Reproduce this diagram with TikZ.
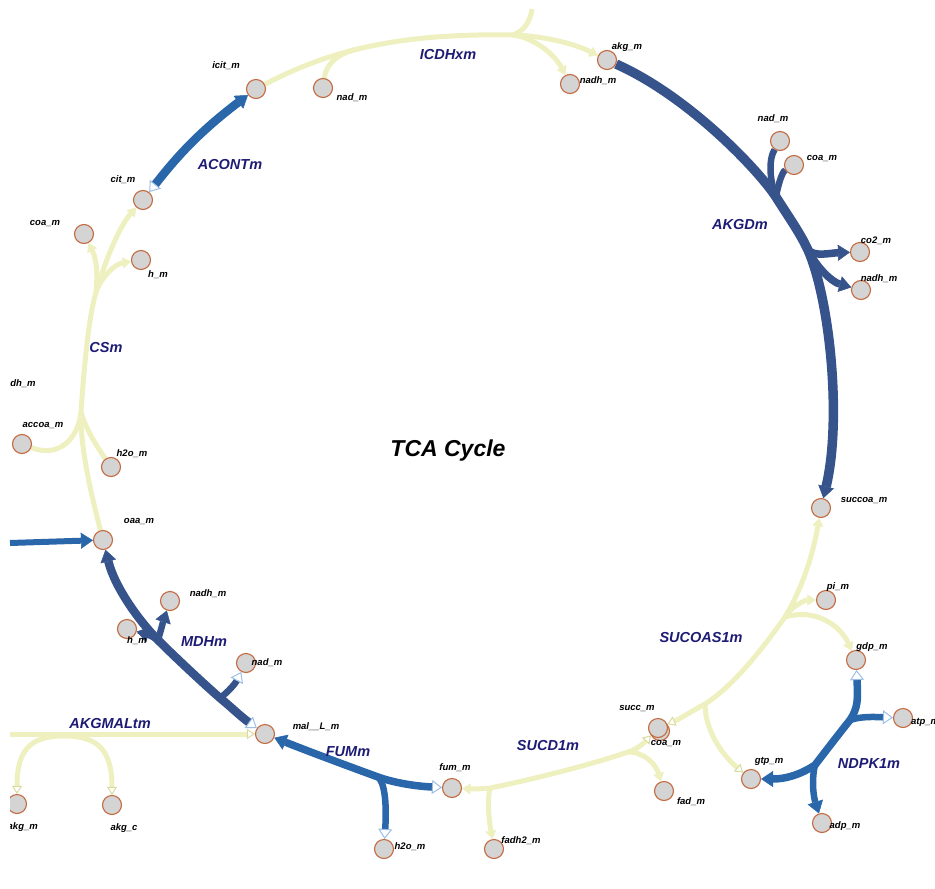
\documentclass[tikz,border=0pt]{standalone}
\usepackage{fontspec}
\setmainfont{Liberation Sans}
\usetikzlibrary{arrows.meta}
\usetikzlibrary{backgrounds}

\definecolor{cYel}{HTML}{EEF0C0}
\definecolor{cYelEdge}{HTML}{D8DC9C}
\definecolor{cBlue}{HTML}{2A67AA}
\definecolor{cDark}{HTML}{36538B}
\definecolor{cOpen}{HTML}{9DBFE6}
\definecolor{cRxn}{HTML}{1D1B74}
\definecolor{cFill}{HTML}{D4D4D4}
\definecolor{cRim}{HTML}{C46A40}

\begin{document}
\begin{tikzpicture}[x=1pt, y=-1pt,
    met/.style={circle, draw=cRim, fill=cFill, line width=1.1pt, minimum size=19pt, inner sep=0pt},
    lab/.style={font=\fontsize{9.5}{10}\selectfont\bfseries\itshape, inner sep=0pt},
    rxn/.style={font=\fontsize{14.5}{15}\selectfont\bfseries\itshape, text=cRxn, inner sep=0pt},
    yel/.style={draw=cYel, line width=5pt},
    blu/.style={draw=cBlue, line width=7.5pt},
    dblu/.style={draw=cDark, line width=8.5pt},
    fY/.tip={Triangle[length=8.5pt, width=11pt, line width=0.5pt]},
    oY/.tip={Triangle[open, length=8pt, width=10pt, line width=1pt, color=cYelEdge]},
    fB/.tip={Triangle[length=12pt, width=16pt, line width=0.5pt]},
    oB/.tip={Triangle[open, length=10pt, width=14pt, line width=1pt, color=cOpen]}]

    \useasboundingbox (0,0) rectangle (935,889);
    \clip (10,9) rectangle (935,889);

    % ICDHxm
    \node[met] (icit) at (256,89) {};
    \node[met] (nadI) at (323,88) {};
    \node[met] (akg) at (607,60) {};
    \node[met] (nadhI) at (570,84) {};
    % AKGDm
    \node[met] (nadA) at (780,141) {};
    \node[met] (coaA) at (794,165) {};
    \node[met] (co2A) at (860,252) {};
    \node[met] (nadhA) at (861,290) {};
    \node[met] (succoa) at (821,508) {};
    % SUCOAS1m
    \node[met] (piS) at (826,600) {};
    \node[met] (gdp) at (856,660) {};
    \node[met] (gtp) at (751,779) {};
    \node[met] (coaS) at (660,731) {};
    \node[met] (succ) at (658,728) {};
    % NDPK1m
    \node[met] (atpN) at (903,718) {};
    \node[met] (adpN) at (822,823) {};
    % SUCD1m
    \node[met] (fadD) at (664,791) {};
    \node[met] (fadh2D) at (494,849) {};
    \node[met] (fum) at (452,788) {};
    % FUMm
    \node[met] (h2oF) at (384,849) {};
    \node[met] (mal) at (265,734) {};
    % MDHm
    \node[met] (nadM) at (246,663) {};
    \node[met] (hM) at (127,629) {};
    \node[met] (nadhM) at (170,601) {};
    \node[met] (oaa) at (103,540) {};
    % CSm
    \node[met] (h2oC) at (111,467) {};
    \node[met] (accoa) at (22,444) {};
    \node[met] (hC) at (141,260) {};
    \node[met] (coaC) at (84,234) {};
    \node[met] (cit) at (143,200) {};
    % AKGMALtm
    \node[met] (akgT) at (17,804) {};
    \node[met] (akgc) at (112,805) {};

    \node[lab] (icit-t) at (226,66) {icit\_m};
    \node[lab] (nadI-t) at (352,98) {nad\_m};
    \node[lab] (akg-t) at (627,47) {akg\_m};
    \node[lab] (nadhI-t) at (598,81) {nadh\_m};
    \node[lab] (nadA-t) at (773,119) {nad\_m};
    \node[lab] (coaA-t) at (822,159) {coa\_m};
    \node[lab] (co2A-t) at (876,241) {co2\_m};
    \node[lab] (nadhA-t) at (879,279) {nadh\_m};
    \node[lab] (succoa-t) at (864,501) {succoa\_m};
    \node[lab] (piS-t) at (838,587) {pi\_m};
    \node[lab] (gdp-t) at (872,647) {gdp\_m};
    \node[lab, anchor=west] (atpN-t) at (911,722) {atp\_m};
    \node[lab] (gtp-t) at (769,761) {gtp\_m};
    \node[lab] (adpN-t) at (845,826) {adp\_m};
    \node[lab] (succ-t) at (637,709) {succ\_m};
    \node[lab] (coaS-t) at (666,744) {coa\_m};
    \node[lab] (fadD-t) at (691,802) {fad\_m};
    \node[lab] (fadh2D-t) at (521,841) {fadh2\_m};
    \node[lab] (fum-t) at (455,768) {fum\_m};
    \node[lab] (h2oF-t) at (410,847) {h2o\_m};
    \node[lab] (mal-t) at (316,727) {mal\_\_L\_m};
    \node[lab] (nadM-t) at (267,663) {nad\_m};
    \node[lab] (hM-t) at (137,641) {h\_m};
    \node[lab] (nadhM-t) at (208,594) {nadh\_m};
    \node[lab] (oaa-t) at (139,522) {oaa\_m};
    \node[lab] (h2oC-t) at (132,454) {h2o\_m};
    \node[lab] (accoa-t) at (43,426) {accoa\_m};
    \node[lab] (nadhC-t) at (23,384) {dh\_m};
    \node[lab] (hC-t) at (158,275) {h\_m};
    \node[lab] (coaC-t) at (45,224) {coa\_m};
    \node[lab] (cit-t) at (123,180) {cit\_m};
    \node[lab, anchor=east] (akgT-t) at (38,827) {akg\_m};
    \node[lab] (akgc-t) at (124,828) {akg\_c};

    \node[rxn] (rICDHxm) at (448,55) {ICDHxm};
    \node[rxn] (rACONTm) at (230,165) {ACONTm};
    \node[rxn] (rAKGDm) at (740,225) {AKGDm};
    \node[rxn] (rCSm) at (106,348) {CSm};
    \node[rxn] (rMDHm) at (204,642) {MDHm};
    \node[rxn] (rAKGMALtm) at (110,723) {AKGMALtm};
    \node[rxn] (rFUMm) at (348,752) {FUMm};
    \node[rxn] (rSUCD1m) at (548,746) {SUCD1m};
    \node[rxn] (rSUCOAS1m) at (701,638) {SUCOAS1m};
    \node[rxn] (rNDPK1m) at (869,764) {NDPK1m};
    \node[font=\fontsize{23}{24}\selectfont\bfseries\itshape, inner sep=0pt] (title) at (448,451) {TCA Cycle};

    \coordinate (jI) at (513,35);
    \coordinate (jIn) at (358,49);
    \coordinate (jIup) at (532,9);
    \coordinate (jA1) at (776,197);
    \coordinate (jA2) at (808,250);
    \coordinate (jS1) at (785,617);
    \coordinate (jS2) at (705,704);
    \coordinate (jD1) at (628,752);
    \coordinate (jD2) at (490,788);
    \coordinate (jF) at (378,777);
    \coordinate (jN1) at (850,720);
    \coordinate (jN2) at (815,765);
    \coordinate (jM1) at (220,698);
    \coordinate (jM2) at (158,640);
    \coordinate (jC1) at (81,412);
    \coordinate (jC2) at (96,292);
    \coordinate (jK) at (64,736);
    \coordinate (jKl) at (10,734);
    \coordinate (jOl) at (10,543);

    \begin{scope}[on background layer]
        % ICDHxm
        \draw[yel] (icit) .. controls (330,50) and (400,33) .. (jI);
        \draw[yel] (nadI) .. controls (326,64) and (338,53) .. (jIn);
        \draw[yel, -fY] (jI) .. controls (545,36) and (575,44) .. (akg);
        \draw[yel, -fY] (jI) .. controls (535,38) and (555,55) .. (nadhI);
        \draw[yel] (jI) .. controls (524,31) and (530,22) .. (jIup);
        % CSm
        \draw[yel] (oaa) .. controls (90,490) and (80,445) .. (jC1) .. controls (84,370) and (88,320) .. (jC2);
        \draw[yel, -fY] (jC2) .. controls (104,265) and (118,228) .. (cit);
        \draw[yel, -fY] (jC2) .. controls (98,272) and (96,258) .. (coaC);
        \draw[yel, -fY] (jC2) .. controls (102,276) and (115,264) .. (hC);
        \draw[yel] (accoa) .. controls (58,458) and (78,440) .. (jC1);
        \draw[yel] (jC1) .. controls (86,430) and (98,448) .. (h2oC);
        % AKGMALtm
        \draw[yel, -oY] (jKl) -- (mal);
        \draw[yel, oY-oY] (akgT) .. controls (17,750) and (30,736) .. (jK) .. controls (98,736) and (112,750) .. (akgc);
        % SUCOAS1m
        \draw[yel, fY-oY] (succoa) .. controls (812,560) and (800,592) .. (jS1) .. controls (765,645) and (735,685) .. (jS2) .. controls (690,712) and (682,718) .. (succ);
        \draw[yel, -fY] (jS1) .. controls (792,606) and (805,600) .. (piS);
        \draw[yel, -fY] (jS1) .. controls (815,608) and (840,625) .. (gdp);
        \draw[yel, -oY] (jS2) .. controls (705,730) and (722,755) .. (gtp);
        % SUCD1m
        \draw[yel, fY-oY] (fum) .. controls (472,789) and (480,789) .. (jD2) .. controls (530,780) and (590,765) .. (jD1) .. controls (637,749) and (642,745) .. (succ);
        \draw[yel, -fY] (jD1) .. controls (645,752) and (656,765) .. (fadD);
        \draw[yel, -fY] (jD2) .. controls (487,800) and (489,820) .. (fadh2D);
        % ACONTm
        \draw[blu, line width=8.5pt, oB-fB] (cit) .. controls (172,163) and (195,135) .. (icit);
        % FUMm
        \draw[blu, oB-fB] (fum) .. controls (412,786) and (392,782) .. (jF) .. controls (345,765) and (305,750) .. (mal);
        \draw[blu, line width=6.5pt, -oB] (jF) .. controls (384,782) and (387,800) .. (h2oF);
        % NDPK1m
        \draw[blu, oB-fB] (gdp) .. controls (858,700) and (858,708) .. (jN1) .. controls (838,735) and (825,752) .. (jN2) .. controls (800,775) and (785,779) .. (gtp);
        \draw[blu, line width=6.5pt, -oB] (jN1) .. controls (862,716) and (876,717) .. (atpN);
        \draw[blu, line width=6.5pt, -fB] (jN2) .. controls (811,782) and (814,798) .. (adpN);
        \draw[blu, line width=6pt, -fB] (jOl) -- (oaa);
        % AKGDm
        \draw[dblu, line width=9.5pt, -fB] (akg) .. controls (690,97) and (760,172) .. (jA1) .. controls (790,219) and (800,233) .. (jA2) .. controls (830,300) and (842,420) .. (succoa);
        \draw[dblu, line width=6.5pt] (nadA) .. controls (768,160) and (770,182) .. (jA1);
        \draw[dblu, line width=6.5pt] (coaA) .. controls (782,172) and (778,185) .. (jA1);
        \draw[dblu, line width=7.5pt, -fB] (jA2) .. controls (815,257) and (830,253) .. (co2A);
        \draw[dblu, line width=7.5pt, -fB] (jA2) .. controls (817,268) and (832,282) .. (nadhA);
        % MDHm
        \draw[dblu, oB-fB] (mal) .. controls (240,716) and (230,706) .. (jM1) .. controls (205,685) and (175,657) .. (jM2) .. controls (140,622) and (115,588) .. (oaa);
        \draw[dblu, line width=6.5pt, -oB] (jM1) .. controls (228,692) and (235,684) .. (nadM);
        \draw[dblu, line width=6.5pt, -fB] (jM2) .. controls (161,630) and (163,622) .. (nadhM);
        \draw[dblu, line width=6.5pt, -fB] (jM2) .. controls (152,636) and (146,634) .. (hM);
    \end{scope}

\end{tikzpicture}
\end{document}
